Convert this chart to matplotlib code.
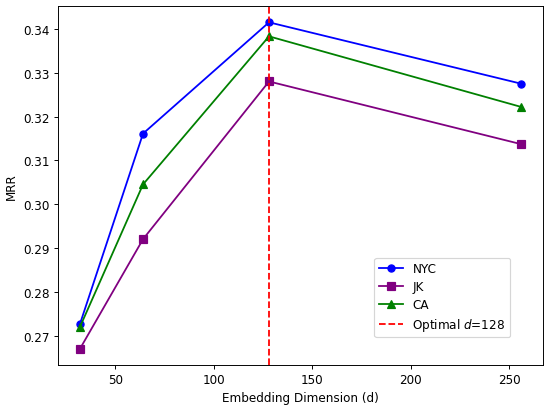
import matplotlib
matplotlib.use('Agg')
import matplotlib.pyplot as plt

# Embedding dimensions and MRR per dataset
dims = [32, 64, 128, 256]
nyc_mrr = [0.2727, 0.3161, 0.3415, 0.3275]
jk_mrr = [0.2670, 0.2920, 0.3280, 0.3137]
ca_mrr = [0.2720, 0.3045, 0.3383, 0.3222]
optimal_d = 128

DPI = 86
fig = plt.figure(figsize=(550 / DPI, 409 / DPI), dpi=DPI)
ax = fig.add_axes([58 / 550, 1 - 366 / 409, (543 - 58) / 550, (366 - 7) / 409])

ax.plot(dims, nyc_mrr, color='blue', marker='o', label='NYC')
ax.plot(dims, jk_mrr, color='purple', marker='s', label='JK')
ax.plot(dims, ca_mrr, color='green', marker='^', label='CA')
ax.axvline(optimal_d, color='red', linestyle='--', label=f'Optimal $d$={optimal_d}')

ax.set_xlabel('Embedding Dimension (d)')
ax.set_ylabel('MRR')
ax.legend(loc='lower right', bbox_to_anchor=(0.945, 0.06), labelspacing=0.4)

fig.savefig('out.png', dpi=DPI)
